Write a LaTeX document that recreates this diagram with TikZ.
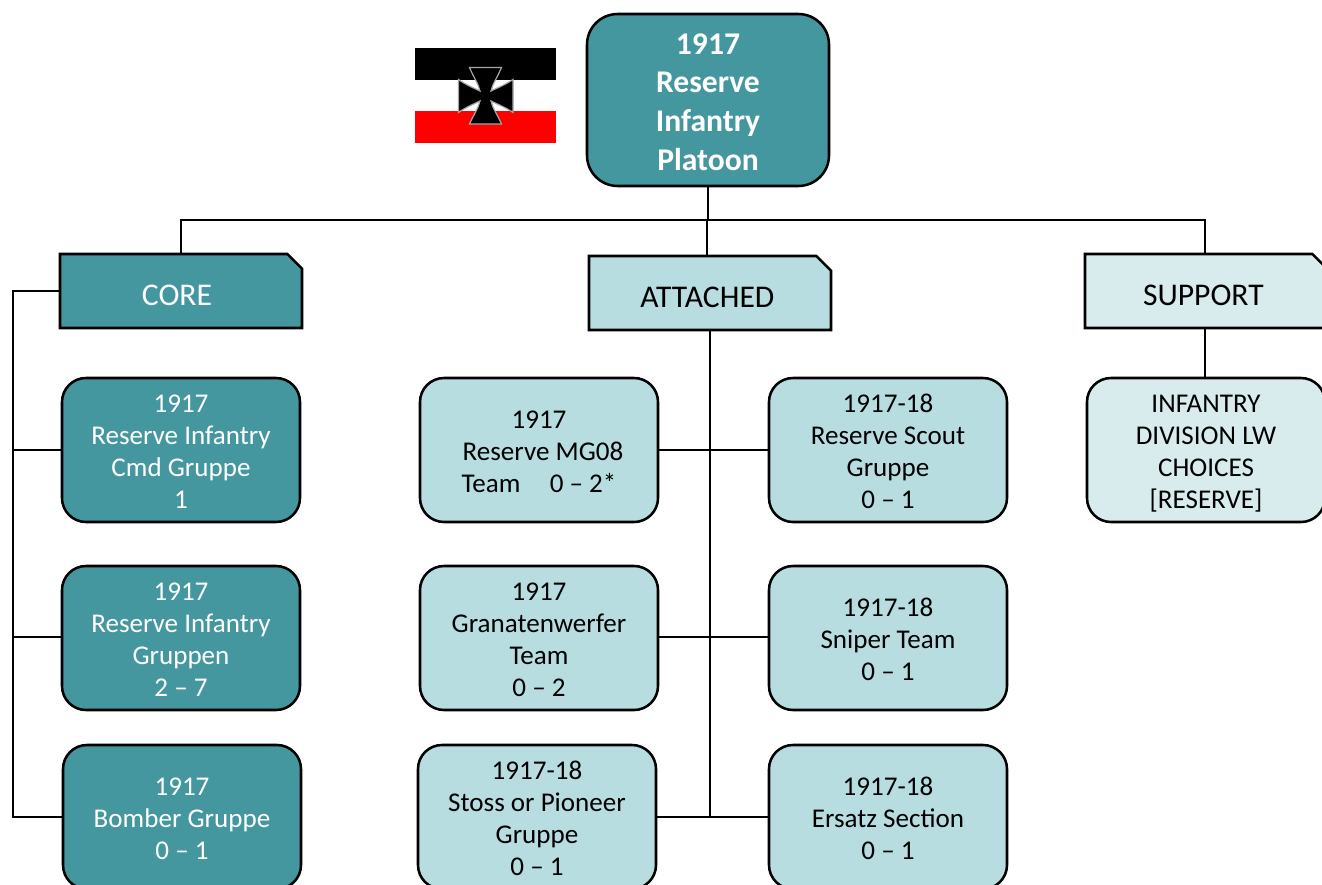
\documentclass[tikz,border=0pt]{standalone}
\usepackage{fontspec}
\setmainfont{Carlito}
\usetikzlibrary{shapes.misc}
\definecolor{tealdark}{HTML}{45979F}
\definecolor{teallight}{HTML}{B8DDE0}
\definecolor{tealpale}{HTML}{D9ECED}
\definecolor{flagred}{HTML}{FF0000}
\newcommand\tstrut{\leavevmode\rule{0pt}{18pt}}
\newcommand\ttstrut{\leavevmode\rule{0pt}{21pt}}
\tikzset{
  box/.style={draw=black,line width=1.9pt,rectangle,rounded corners=18pt,inner sep=0pt,outer sep=0pt,
    minimum width=178.5pt,minimum height=108pt,align=center,font=\fontsize{20.3}{24}\selectfont,
    execute at end node={\rule[-3pt]{0pt}{3pt}}},
  darkbox/.style={box,fill=tealdark,text=white},
  lightbox/.style={box,fill=teallight,text=black},
  palebox/.style={box,fill=tealpale,text=black},
  titlebox/.style={darkbox,minimum width=181.5pt,minimum height=129pt,rounded corners=23pt,
    font=\fontsize{23.7}{29}\selectfont\bfseries},
  headbox/.style={draw=black,line width=1.9pt,chamfered rectangle,chamfered rectangle corners=north east,
    chamfered rectangle xsep=11pt,chamfered rectangle ysep=11pt,inner sep=0pt,outer sep=0pt,
    minimum width=181.5pt,minimum height=55.5pt,font=\fontsize{23.7}{25}\selectfont},
  link/.style={line width=2.2pt,draw=black,line cap=rect},
}
\begin{document}
\begin{tikzpicture}[x=0.75pt,y=-0.75pt]
\useasboundingbox (0,0) rectangle (1322,885);
\clip (0,0) rectangle (1322,885);
% flag
\fill[black] (415,48) rectangle (556,80);
\fill[white] (415,80) rectangle (556,111);
\fill[flagred] (415,111) rectangle (556,143);
\draw[fill=black,draw=gray!70,line width=0.9pt,line join=miter]
  (469.5,67.5) -- (501.5,67.5)
  .. controls (497,78) and (492.5,84) .. (491,91)
  .. controls (497,88) and (505,85) .. (513,79.5) -- (513,112.5)
  .. controls (505,107) and (497,104) .. (491,101)
  .. controls (492.5,108) and (497,114) .. (501.5,124) -- (469.5,124)
  .. controls (474,114) and (478.5,108) .. (480,101)
  .. controls (474,104) and (466,107) .. (458.5,112.5) -- (458.5,79.5)
  .. controls (466,85) and (474,88) .. (480,91)
  .. controls (478.5,84) and (474,78) .. (469.5,67.5) -- cycle;
% junctions
\coordinate (busT) at (708,220);
\coordinate (busC) at (181,220);
\coordinate (busA) at (707,220);
\coordinate (busS) at (1205,220);
\coordinate (leftTop) at (13,291);
\coordinate (leftBot) at (13,817);
\coordinate (midBot) at (710,817);
\coordinate (leftC1) at (13,450);
\coordinate (leftC2) at (13,637);
\coordinate (mid1) at (710,450);
\coordinate (mid2) at (710,637);
% nodes
\node[titlebox] (title) at (708,100) {\ttstrut 1917\\Reserve\\Infantry\\Platoon};
\node[headbox,fill=tealdark,text=white] (core) at (181,291) {\raisebox{-10.5pt}[0pt][0pt]{\hspace*{-6pt}CORE}};
\node[headbox,fill=teallight] (attached) at (710,293) {\raisebox{-10.5pt}[0pt][0pt]{\hspace*{-4pt}ATTACHED}};
\node[headbox,fill=tealpale] (support) at (1206,291) {\raisebox{-10.5pt}[0pt][0pt]{\hspace*{-4pt}SUPPORT}};
\node[darkbox] (c1) at (181,450) {\tstrut 1917\\Reserve Infantry\\Cmd Gruppe\\1};
\node[darkbox] (c2) at (181,638) {\tstrut 1917\\Reserve Infantry\\Gruppen\\2 – 7};
\node[darkbox] (c3) at (182,817) {\tstrut 1917\\Bomber Gruppe\\0 – 1};
\node[lightbox] (a1) at (539,450) {\tstrut 1917\\\hspace*{6pt}Reserve MG08\\Team\hspace{22pt}0 – 2*};
\node[lightbox] (a2) at (539,638) {\tstrut 1917\\Granatenwerfer\\Team\\0 – 2};
\node[lightbox] (a3) at (537,817) {\tstrut 1917-18\\Stoss or Pioneer\\Gruppe\\0 – 1};
\node[lightbox] (b1) at (888,450) {\tstrut 1917-18\\Reserve Scout\\Gruppe\\0 – 1};
\node[lightbox] (b2) at (888,638) {\tstrut 1917-18\\Sniper Team\\0 – 1};
\node[lightbox] (b3) at (888,817) {\tstrut 1917-18\\Ersatz Section\\0 – 1};
\node[palebox] (s1) at (1206,450) {\tstrut INFANTRY\\DIVISION LW\\CHOICES\\\smash{[RESERVE]}};
% connectors
\draw[link] (title.south) -- (busT);
\draw[link] (busC) -- (busS);
\draw[link] (busC) -- (busC |- core.north);
\draw[link] (busA) -- (busA |- attached.north);
\draw[link] (busS) -- (busS |- support.north);
\draw[link] (core.west |- leftTop) -- (leftTop) -- (leftBot) -- (leftBot -| c3.west);
\draw[link] (leftC1) -- (leftC1 -| c1.west);
\draw[link] (leftC2) -- (leftC2 -| c2.west);
\draw[link] (attached.south) -- (midBot);
\draw[link] (mid1 -| a1.east) -- (mid1 -| b1.west);
\draw[link] (mid2 -| a2.east) -- (mid2 -| b2.west);
\draw[link] (midBot -| a3.east) -- (midBot -| b3.west);
\draw[link] (busS |- support.south) -- (busS |- s1.north);
\end{tikzpicture}
\end{document}
